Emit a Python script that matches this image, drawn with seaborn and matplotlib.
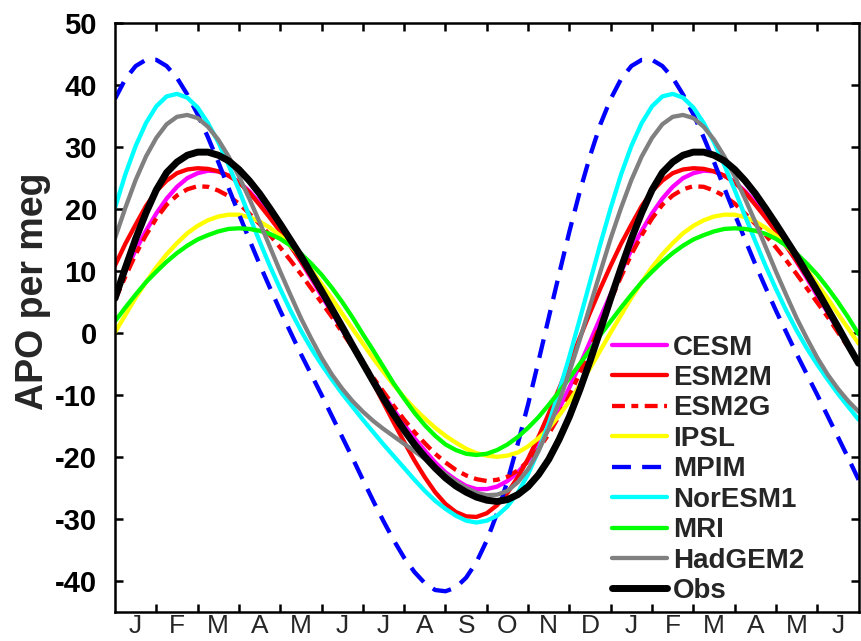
import numpy as np
import matplotlib
matplotlib.use("Agg")
import matplotlib.pyplot as plt
import seaborn as sns

# Mean seasonal cycle of APO (per meg), sampled every quarter month from Jan 1
cycle_months = np.arange(0, 12, 0.25)

cesm = [6.3, 9.9, 13.4, 16.5, 19.3, 21.7, 23.6, 25.0, 25.8, 26.2, 26.1, 25.4,
        24.4, 22.9, 21.1, 19.0, 16.6, 14.1, 11.5, 8.8, 6.0, 3.3, 0.5, -2.2,
        -4.9, -7.5, -10.0, -12.4, -14.8, -17.0, -19.0, -20.9, -22.5, -23.7, -24.7, -25.2,
        -25.2, -24.8, -23.9, -22.5, -20.6, -18.2, -15.5, -12.3, -8.8, -5.2, -1.4, 2.5]
esm2m = [10.9, 14.4, 17.5, 20.5, 22.9, 24.6, 25.8, 26.4, 26.6, 26.5, 26.1, 25.4,
         24.3, 22.7, 20.7, 18.6, 16.4, 14.0, 11.6, 9.1, 6.4, 3.8, 1.0, -2.0,
         -5.0, -8.1, -11.3, -14.5, -17.6, -20.6, -23.3, -25.7, -27.6, -28.9, -29.6, -29.7,
         -29.1, -27.8, -25.8, -23.3, -20.3, -16.8, -13.0, -9.0, -4.9, -0.8, 3.3, 7.2]
esm2g = [5.3, 9.1, 12.7, 15.8, 18.5, 20.7, 22.2, 23.2, 23.7, 23.6, 23.0, 22.1,
         20.9, 19.3, 17.6, 15.8, 13.8, 11.7, 9.5, 7.2, 4.9, 2.6, 0.1, -2.3,
         -4.8, -7.2, -9.5, -11.8, -14.0, -16.0, -17.8, -19.5, -20.9, -22.1, -23.0, -23.6,
         -23.9, -23.7, -23.2, -22.2, -20.7, -18.8, -16.3, -13.4, -10.1, -6.5, -2.6, 1.4]
ipsl = [0.1, 2.9, 5.7, 8.2, 10.6, 12.7, 14.5, 16.1, 17.3, 18.2, 18.8, 19.1,
        19.1, 18.7, 18.0, 17.0, 15.7, 14.1, 12.3, 10.2, 7.9, 5.6, 3.1, 0.7,
        -1.7, -4.1, -6.3, -8.4, -10.4, -12.2, -13.8, -15.3, -16.6, -17.7, -18.7, -19.4,
        -19.8, -20.0, -19.8, -19.3, -18.3, -17.0, -15.4, -13.3, -11.0, -8.4, -5.7, -2.8]
mpim = [37.8, 41.0, 43.1, 44.1, 44.1, 43.1, 41.2, 38.5, 35.3, 31.6, 27.6, 23.4,
        19.2, 15.1, 11.1, 7.3, 3.6, 0.1, -3.4, -6.7, -10.0, -13.4, -16.8, -20.2,
        -23.7, -27.1, -30.4, -33.5, -36.3, -38.6, -40.4, -41.5, -41.7, -41.1, -39.5, -37.0,
        -33.5, -29.1, -23.9, -17.9, -11.5, -4.6, 2.5, 9.5, 16.4, 22.8, 28.6, 33.7]
noresm1 = [20.2, 25.6, 30.2, 33.9, 36.6, 38.2, 38.6, 38.0, 36.4, 33.9, 30.8, 27.1,
           23.1, 18.9, 14.8, 10.8, 7.1, 3.6, 0.4, -2.5, -5.1, -7.5, -9.8, -11.9,
           -14.0, -16.0, -18.0, -19.9, -21.8, -23.7, -25.5, -27.1, -28.4, -29.5, -30.3, -30.6,
           -30.3, -29.5, -28.0, -25.8, -22.8, -19.0, -14.6, -9.4, -3.8, 2.2, 8.3, 14.4]
mri = [1.9, 4.1, 6.2, 8.2, 9.9, 11.5, 12.9, 14.1, 15.1, 15.8, 16.4, 16.8,
       16.9, 16.8, 16.5, 16.0, 15.2, 14.1, 12.8, 11.2, 9.4, 7.3, 5.0, 2.5,
       -0.2, -2.8, -5.5, -8.2, -10.6, -12.9, -14.9, -16.6, -18.0, -18.9, -19.5, -19.7,
       -19.5, -18.9, -18.0, -16.8, -15.3, -13.6, -11.6, -9.5, -7.3, -5.0, -2.7, -0.3]
hadgem2 = [15.3, 20.2, 24.7, 28.5, 31.5, 33.7, 34.9, 35.2, 34.7, 33.3, 31.2, 28.5,
           25.3, 21.7, 17.9, 13.9, 9.9, 6.1, 2.4, -0.9, -4.0, -6.7, -9.0, -11.0,
           -12.7, -14.2, -15.5, -16.7, -17.9, -19.1, -20.3, -21.6, -22.8, -24.0, -25.0, -25.8,
           -26.2, -26.1, -25.5, -24.1, -22.0, -19.1, -15.4, -11.1, -6.3, -1.1, 4.4, 9.9]
obs = [5.6, 10.5, 15.2, 19.4, 23.1, 25.9, 27.6, 28.7, 29.2, 29.2, 28.7, 27.8,
       26.4, 24.6, 22.5, 20.1, 17.6, 15.0, 12.4, 9.6, 6.8, 3.9, 1.0, -2.0,
       -4.9, -7.8, -10.6, -13.2, -15.7, -18.0, -20.0, -21.8, -23.4, -24.7, -25.7, -26.5,
       -27.0, -27.2, -26.9, -26.1, -24.8, -22.9, -20.4, -17.2, -13.5, -9.2, -4.5, 0.5]

month_letters = ["J", "F", "M", "A", "M", "J", "J", "A", "S", "O", "N", "D",
                 "J", "F", "M", "A", "M", "J"]
y_ticks = [-40, -30, -20, -10, 0, 10, 20, 30, 40, 50]

# 18-month window: the annual cycle followed by its first half again
x = np.arange(73) * 0.25


def span(cycle):
    cycle = np.asarray(cycle, dtype=float)
    return np.concatenate([cycle, cycle[:len(x) - len(cycle)]])


series = [
    ("CESM", cesm, "#ff00ff", 3.1, None),
    ("ESM2M", esm2m, "#ff0000", 3.1, None),
    ("ESM2G", esm2g, "#ff0000", 3.1, (3.0, 1.5, 1.6, 1.5)),
    ("IPSL", ipsl, "#ffff00", 3.1, None),
    ("MPIM", mpim, "#0000ff", 3.1, (4.4, 2.6)),
    ("NorESM1", noresm1, "#00ffff", 3.1, None),
    ("MRI", mri, "#00ff00", 3.1, None),
    ("HadGEM2", hadgem2, "#808080", 3.1, None),
    ("Obs", obs, "#000000", 5.0, None),
]

sns.set_style("ticks")
plt.rcParams["font.family"] = ["Liberation Sans", "DejaVu Sans"]

fig = plt.figure(figsize=(8.62, 6.41), dpi=100)
ax = fig.add_axes([115 / 862, 1 - 611.7 / 641, 743.6 / 862, 588.4 / 641])

for name, vals, color, lw, dash in series:
    sns.lineplot(x=x, y=span(vals), color=color, linewidth=lw, label=name,
                 errorbar=None, ax=ax)
    line = ax.lines[-1]
    if dash is not None:
        line.set_dashes(dash)

ax.set_xlim(0, 18)
ax.set_ylim(-45, 50)

# month boundaries carry the tick marks, month centres carry the letters
ax.set_xticks(np.arange(1, 18))
ax.set_xticklabels([])
ax.set_xticks(np.arange(0.5, 18, 1), minor=True)
ax.set_xticklabels(month_letters, minor=True, fontsize=19)
ax.tick_params(axis="x", which="minor", length=0, pad=2)
ax.set_yticks(y_ticks)
ax.set_yticklabels([str(v) for v in y_ticks], fontsize=21, fontweight="bold")
ax.tick_params(which="major", direction="in", length=6, width=1.8,
               top=True, right=True, colors="black")
ax.tick_params(axis="y", pad=13)

for s in ax.spines.values():
    s.set_color("black")
    s.set_linewidth(1.8)

ax.set_xlabel("")
ax.set_ylabel("APO per meg", fontsize=27, fontweight="bold")
ax.yaxis.set_label_coords(-0.086, 0.545)

ax.legend(loc="upper left", bbox_to_anchor=(0.668, 0.471), frameon=False,
          prop={"size": 20, "weight": "bold"}, handlelength=2.0,
          handletextpad=0.2, labelspacing=0.16, borderpad=0.0,
          borderaxespad=0.0)

fig.savefig("out.png", dpi=100)
